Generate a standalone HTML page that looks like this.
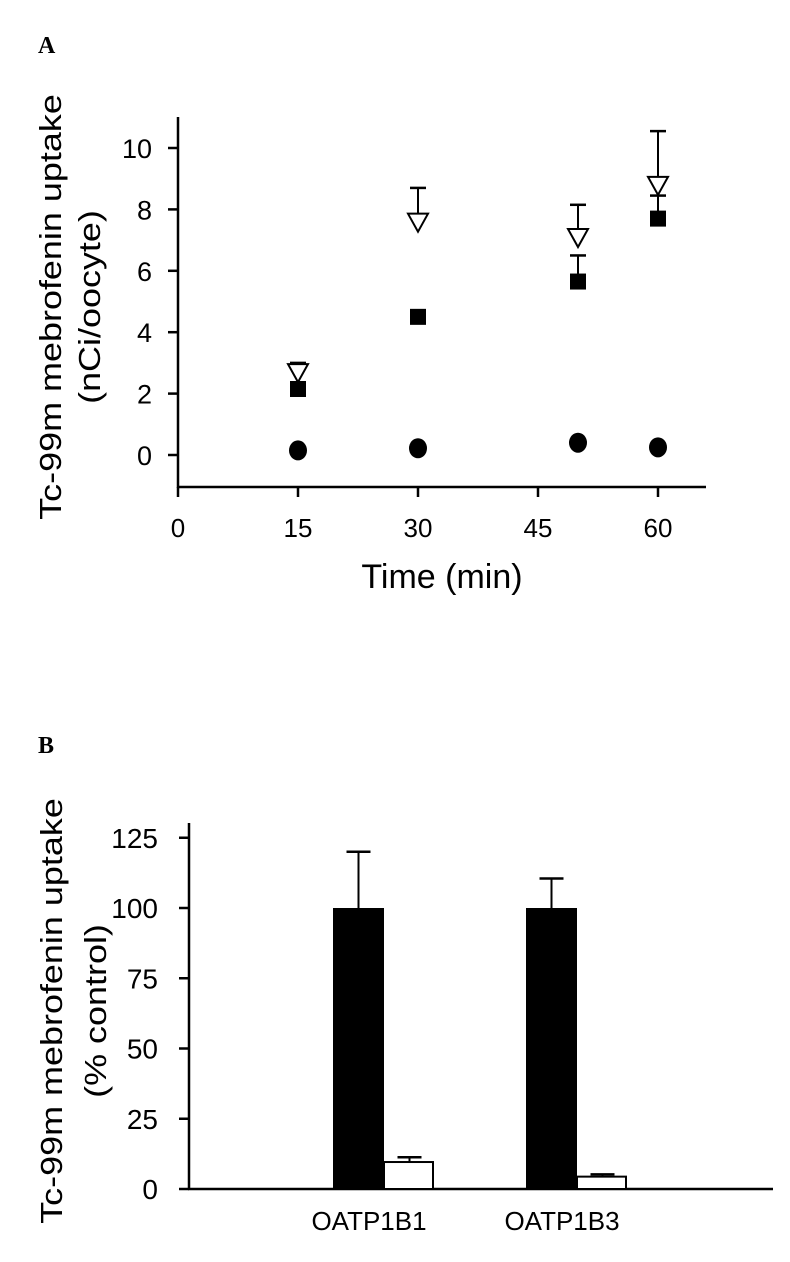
<!DOCTYPE html>
<html><head><meta charset="utf-8"><style>
body{margin:0;background:#fff;width:790px;height:1262px;overflow:hidden}
svg{display:block}
text{font-family:"Liberation Sans",Arial,sans-serif;fill:#000}
</style></head><body>
<svg id="fig" width="790" height="1262">
<text x="38" y="53" style="font-family:'Liberation Serif',serif;font-weight:bold;font-size:24px">A</text>
<text x="38" y="753" style="font-family:'Liberation Serif',serif;font-weight:bold;font-size:24px">B</text>
<g id="a"></g><g id="b"></g>
</svg>
<script>
// Panel A data
const timesA = [15, 30, 50, 60];
const circleVals = [0.15, 0.22, 0.40, 0.25];
const squareVals = [2.15, 4.5, 5.65, 7.7];
const squareErr = [0, 0, 0.85, 0.75];
const triVals = [2.7, 7.6, 7.1, 8.8];
const triErr = [0.3, 1.1, 1.05, 1.75];
const xTicksA = [0, 15, 30, 45, 60];
const yTicksA = [0, 2, 4, 6, 8, 10];
// Panel B data
const catsB = ["OATP1B1", "OATP1B3"];
const controlVals = [100, 100];
const controlErr = [20, 10.5];
const inhibVals = [9.6, 4.4];
const inhibErr = [1.7, 0.8];
const yTicksB = [0, 25, 50, 75, 100, 125];

const NS = "http://www.w3.org/2000/svg";
function mk(parent, tag, attrs, txt){
  const e = document.createElementNS(NS, tag);
  for (const k in attrs) e.setAttribute(k, attrs[k]);
  if (txt !== undefined) e.textContent = txt;
  parent.appendChild(e); return e;
}
// ---- Panel A ----
const ga = document.getElementById('a');
const xA = t => 178 + t * 8;
const yA = v => 455 - v * 30.7;
let e;
e = mk(ga, 'line', {x1:178, y1:117, x2:178, y2:488, stroke:'#000', 'stroke-width':2.5});


e = mk(ga, 'line', {x1:177, y1:487, x2:706, y2:487, stroke:'#000', 'stroke-width':2.5});


xTicksA.forEach(t => {
  mk(ga, 'line', {x1:xA(t), y1:487, x2:xA(t), y2:497, stroke:'#000', 'stroke-width':2.5});
  e = mk(ga, 'text', {x:xA(t), y:537, 'text-anchor':'middle', 'font-size':26}, t);
  
  
});
yTicksA.forEach(v => {
  mk(ga, 'line', {x1:168, y1:yA(v), x2:178, y2:yA(v), stroke:'#000', 'stroke-width':2.5});
  e = mk(ga, 'text', {x:152, y:yA(v)+10, 'text-anchor':'end', 'font-size':27}, v);
  
  
});
e = mk(ga, 'text', {x:442, y:588, 'text-anchor':'middle', 'font-size':34}, 'Time (min)');


e = mk(ga, 'text', {'text-anchor':'middle', 'font-size':31, transform:'translate(61,307) rotate(-90) scale(1.16,1)'}, 'Tc-99m mebrofenin uptake');


e = mk(ga, 'text', {'text-anchor':'middle', 'font-size':31, transform:'translate(100,307) rotate(-90) scale(1.16,1)'}, '(nCi/oocyte)');


function errBar(g, x, y0, y1, hw){
  mk(g, 'line', {x1:x, y1:y0, x2:x, y2:y1, stroke:'#000', 'stroke-width':2});
  mk(g, 'line', {x1:x-hw, y1:y1, x2:x+hw, y2:y1, stroke:'#000', 'stroke-width':2.5});
}
timesA.forEach((t,i) => {
  if (triErr[i] > 0) errBar(ga, xA(t), yA(triVals[i]), yA(triVals[i]+triErr[i]), 8);
  if (squareErr[i] > 0) errBar(ga, xA(t), yA(squareVals[i]), yA(squareVals[i]+squareErr[i]), 8);
});
timesA.forEach((t,i) => {
  const x = xA(t), y = yA(triVals[i]);
  e = mk(ga, 'polygon', {points:`${x-10},${y-8} ${x+10},${y-8} ${x},${y+10}`, fill:'#fff', stroke:'#000', 'stroke-width':2});
  
  
});
timesA.forEach((t,i) => {
  const x = xA(t), y = yA(squareVals[i]);
  e = mk(ga, 'rect', {x:x-8, y:y-8, width:16, height:16, fill:'#000'});
  
  
});
timesA.forEach((t,i) => {
  e = mk(ga, 'ellipse', {cx:xA(t), cy:yA(circleVals[i]), rx:9, ry:10, fill:'#000'});
  
  
});
// ---- Panel B ----
const gb = document.getElementById('b');
const yB = v => 1189 - v * 2.81;
const catX = [333, 526];
const barW = 51;
e = mk(gb, 'line', {x1:189, y1:823, x2:189, y2:1190, stroke:'#000', 'stroke-width':2.5});


e = mk(gb, 'line', {x1:188, y1:1189, x2:773, y2:1189, stroke:'#000', 'stroke-width':2.5});


yTicksB.forEach(v => {
  mk(gb, 'line', {x1:179, y1:yB(v), x2:189, y2:yB(v), stroke:'#000', 'stroke-width':2.5});
  e = mk(gb, 'text', {x:158, y:yB(v)+10, 'text-anchor':'end', 'font-size':28}, v);
  
  
});
e = mk(gb, 'text', {'text-anchor':'middle', 'font-size':31, transform:'translate(62,1011) rotate(-90) scale(1.16,1)'}, 'Tc-99m mebrofenin uptake');


e = mk(gb, 'text', {'text-anchor':'middle', 'font-size':31, transform:'translate(106,1011) rotate(-90) scale(1.16,1)'}, '(% control)');


catsB.forEach((c,i) => {
  const x0 = catX[i];
  errBar(gb, x0+barW/2, yB(controlVals[i]), yB(controlVals[i]+controlErr[i]), 12);
  e = mk(gb, 'rect', {x:x0, y:yB(controlVals[i]), width:barW, height:1189-yB(controlVals[i]), fill:'#000'});
  
  
  errBar(gb, x0+barW+barW/2, yB(inhibVals[i]), yB(inhibVals[i]+inhibErr[i]), 12);
  e = mk(gb, 'rect', {x:x0+barW, y:yB(inhibVals[i]), width:barW-2, height:1189-yB(inhibVals[i]), fill:'#fff', stroke:'#000', 'stroke-width':2});
  
  
  e = mk(gb, 'text', {x:x0+barW-15, y:1230, 'text-anchor':'middle', 'font-size':26}, c);
  
  
});
</script>
</body></html>
